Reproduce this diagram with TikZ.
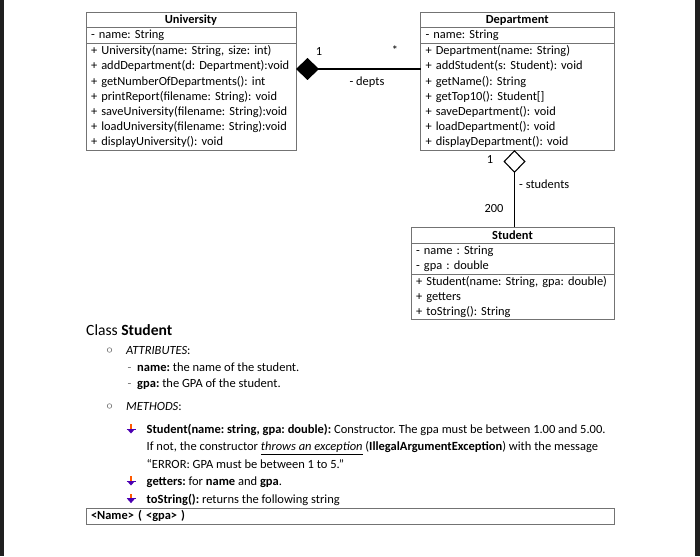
\documentclass[tikz,border=0pt]{standalone}
\usepackage{fontspec}
\setmainfont{Carlito}
\usetikzlibrary{arrows.meta}
\AtBeginDocument{\frenchspacing}

\tikzset{
    umlpart/.style = {draw = black!55, line width = 0.8pt, outer sep = 0pt,
        inner xsep = 5pt, inner ysep = 0pt, anchor = north west, align = left,
        font = \fontsize{12.4}{15.2}\selectfont\frenchspacing},
    umlhead/.style = {umlpart, align = center,
        font = \fontsize{12.4}{15.2}\selectfont\bfseries},
    multlabel/.style = {font = \fontsize{12.4}{14}\selectfont, inner sep = 0pt},
    bodytext/.style = {anchor = base west, inner sep = 0pt,
        font = \fontsize{12.5}{14}\selectfont\frenchspacing},
    composite/.style = {{Diamond[length = 23pt, width = 22pt]}-, line width = 1.1pt},
    aggregate/.style = {{Diamond[open, length = 23pt, width = 22pt]}-, line width = 1.1pt},
    listdot/.style = {draw = black!60, line width = 0.5pt, fill = white},
}

\begin{document}
\begin{tikzpicture}[x = 1pt, y = -1pt]
    \useasboundingbox (0,0) rectangle (700,556);
    \fill [black!88] (0,0) rectangle (4,556);
    \fill [black!88] (695,0) rectangle (700,556);

    % University
    \node [umlhead, text width = 200pt, minimum height = 15.3pt] (unihead) at (86,12.4) {University};
    \node [umlpart, text width = 200pt, minimum height = 15.9pt] (uniattr) at (unihead.south west) {- name: String};
    \node [umlpart, text width = 200pt, minimum height = 106.4pt] (unimeth) at (uniattr.south west)
        {+ University(name: String, size: int)\\
         + addDepartment(d: Department):void\\
         + getNumberOfDepartments(): int\\
         + printReport(filename: String): void\\
         + saveUniversity(filename: String):void\\
         + loadUniversity(filename: String):void\\
         + displayUniversity(): void};

    % Department
    \node [umlhead, text width = 183.5pt, minimum height = 15.3pt] (depthead) at (420.5,12.4) {Department};
    \node [umlpart, text width = 183.5pt, minimum height = 15.9pt] (deptattr) at (depthead.south west) {- name: String};
    \node [umlpart, text width = 183.5pt, minimum height = 106.4pt] (deptmeth) at (deptattr.south west)
        {+ Department(name: String)\\
         + addStudent(s: Student): void\\
         + getName(): String\\
         + getTop10(): Student[]\\
         + saveDepartment(): void\\
         + loadDepartment(): void\\
         + displayDepartment(): void};

    % Student
    \node [umlhead, text width = 193pt, minimum height = 16pt] (stuhead) at (411,227) {Student};
    \node [umlpart, text width = 193pt, minimum height = 31pt] (stuattr) at (stuhead.south west)
        {- name : String\\
         - gpa : double};
    \node [umlpart, text width = 193pt, minimum height = 45.5pt] (stumeth) at (stuattr.south west)
        {+ Student(name: String, gpa: double)\\
         + getters\\
         + toString(): String};

    % associations
    \draw [composite] (unimeth.east |- 0,69) -- (deptmeth.west |- 0,69);
    \node [multlabel] (unione) at (319,52) {1};
    \node [multlabel] (deptmany) at (395,50) {*};
    \node [multlabel] (deptsrole) at (367,82) {- depts};

    \draw [aggregate] (deptmeth.south -| 514.5,0) -- (stuhead.north -| 514.5,0);
    \node [multlabel] (deptone) at (490,160) {1};
    \node [multlabel, anchor = west] (sturole) at (519,184) {- students};
    \node [multlabel] (stumany) at (494,209) {200};

    % description of class Student
    \node [anchor = base west, inner sep = 0pt, font = \fontsize{15.6}{17}\selectfont] (clsname) at (86,335.5) {Class \textbf{Student}};
    \draw [listdot] (109.5,350) circle (2.3pt);
    \node [bodytext] (attrhead) at (126,354.5) {\textit{ATTRIBUTES}:};
    \node [bodytext, text = black!55] (namedash) at (127.5,371) {-};
    \node [bodytext] (nameitem) at (137,371) {\textbf{name:} the name of the student.};
    \node [bodytext, text = black!55] (gpadash) at (127.5,387) {-};
    \node [bodytext] (gpaitem) at (137,387) {\textbf{gpa:} the GPA of the student.};
    \draw [listdot] (109.5,406) circle (2.3pt);
    \node [bodytext] (methhead) at (126,410.5) {\textit{METHODS}:};

    \foreach \y in {429, 481, 498.6} {
        \fill [orange!70!red] (130.3,\y-5) rectangle (131.7,\y);
        \fill [violet!60!blue] (127,\y) -- (135,\y) -- (131,\y+4.5) -- cycle;
        \draw [violet!60!blue, line width = 0.7pt] (126.5,\y) -- (135.5,\y);
    }
    \node [bodytext] (ctorline) at (146.5,433)
        {\textbf{Student(name: string, gpa: double):} Constructor. The gpa must be between 1.00 and 5.00.};
    \node [bodytext] (ctorline2) at (146.5,450.5)
        {If not, the constructor \underline{\textit{throws an exception}} (\textbf{IllegalArgumentException}) with the message};
    \node [bodytext] (ctorline3) at (146.5,468) {“ERROR: GPA must be between 1 to 5.”};
    \node [bodytext] (getline) at (146.5,485.5) {\textbf{getters:} for \textbf{name} and \textbf{gpa}.};
    \node [bodytext] (tostrline) at (146.5,503) {\textbf{toString():} returns the following string};

    \node [umlpart, text width = 518pt, minimum height = 16pt, font = \fontsize{12.4}{14}\selectfont\bfseries] (formatbox) at (86,508) {<Name> ( <gpa> )};
\end{tikzpicture}
\end{document}
